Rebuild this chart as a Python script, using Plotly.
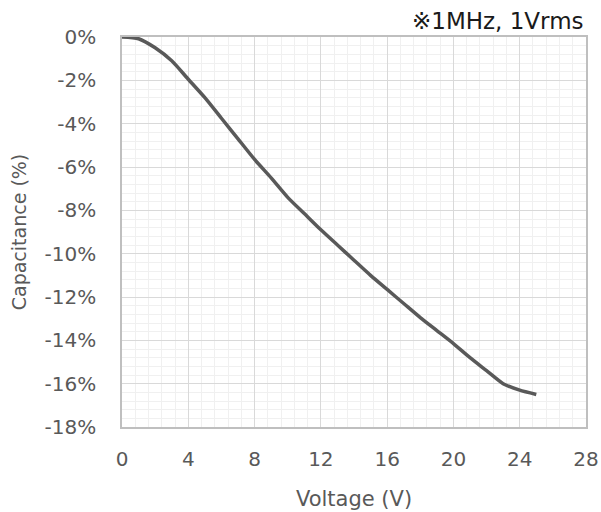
import plotly.graph_objects as go

voltage = list(range(0, 26))
capacitance_pct = [0, -0.08, -0.5, -1.1, -1.95, -2.8, -3.75, -4.7, -5.65, -6.5,
                   -7.4, -8.15, -8.9, -9.6, -10.3, -11.0, -11.65, -12.3, -12.95,
                   -13.55, -14.15, -14.8, -15.4, -16.0, -16.3, -16.5]

x_ticks = [0, 4, 8, 12, 16, 20, 24, 28]
y_ticks = [0, -2, -4, -6, -8, -10, -12, -14, -16, -18]
y_tick_labels = ["0%", "-2%", "-4%", "-6%", "-8%", "-10%", "-12%", "-14%", "-16%", "-18%"]

FONT = "DejaVu Sans, Noto Sans CJK JP"
TXT = "#595959"

fig = go.Figure()
fig.add_trace(go.Scatter(
    x=voltage, y=capacitance_pct, mode="lines",
    line=dict(color="#595959", width=3.5, shape="spline", smoothing=0.6),
    showlegend=False, hoverinfo="skip",
))

fig.update_layout(
    width=601, height=512,
    margin=dict(l=122, r=15, t=37, b=85, autoexpand=False),
    paper_bgcolor="white", plot_bgcolor="white",
    font=dict(family=FONT, size=20, color=TXT),
    annotations=[dict(
        text="※1MHz, 1Vrms", xref="paper", yref="paper", x=1.0, y=1.0,
        xanchor="right", yanchor="bottom", yshift=1, showarrow=False,
        font=dict(family=FONT, size=23, color="#1a1a1a"),
    )],
)

fig.update_xaxes(
    range=[0, 28], tickvals=x_ticks, ticktext=[str(v) for v in x_ticks],
    showgrid=True, gridcolor="#d9d9d9", gridwidth=1,
    minor=dict(dtick=0.8, showgrid=True, gridcolor="#f0f0f0", gridwidth=1),
    showline=True, linecolor="#bfbfbf", linewidth=1.5, mirror=True,
    ticks="", ticklabelstandoff=13, zeroline=False, automargin=False,
    tickfont=dict(size=20, color=TXT),
    title=dict(text="Voltage (V)", standoff=22, font=dict(size=21, color=TXT)),
)
fig.update_yaxes(
    range=[-18, 0], tickvals=y_ticks, ticktext=y_tick_labels,
    showgrid=True, gridcolor="#d9d9d9", gridwidth=1,
    minor=dict(dtick=0.4, showgrid=True, gridcolor="#f0f0f0", gridwidth=1),
    showline=True, linecolor="#bfbfbf", linewidth=1.5, mirror=True,
    ticks="", ticklabelstandoff=20, zeroline=False, automargin=False,
    tickfont=dict(size=20, color=TXT),
    title=dict(text="Capacitance (%)", standoff=13, font=dict(size=19, color=TXT)),
)

fig.write_html("out.html")
